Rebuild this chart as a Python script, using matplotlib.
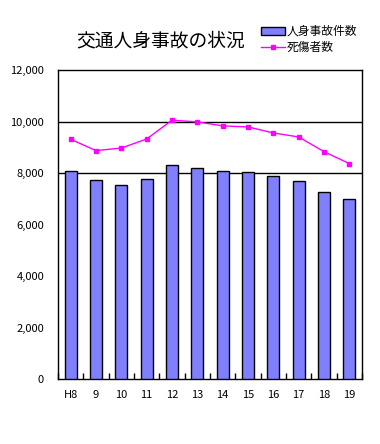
import numpy as np
import matplotlib.pyplot as plt
from matplotlib.ticker import FuncFormatter

plt.rcParams['font.family'] = ['Noto Sans CJK JP', 'DejaVu Sans']

years = ["H8", "9", "10", "11", "12", "13", "14", "15", "16", "17", "18", "19"]
accidents = [8090, 7740, 7550, 7780, 8325, 8210, 8090, 8050, 7900, 7700, 7270, 7000]
casualties = [9310, 8870, 8970, 9320, 10050, 9985, 9830, 9790, 9555, 9400, 8830, 8365]


def main() -> None:
    fig = plt.figure(figsize=(3.8, 4.44), dpi=100)
    ax = fig.add_axes([58 / 380, 1 - 379 / 444, 304 / 380, 309 / 444])

    x = np.arange(len(years))
    bars = ax.bar(x, accidents, width=0.47, color="#8080FF", edgecolor="black",
                  linewidth=1, label="人身事故件数", zorder=3)
    line, = ax.plot(x, casualties, color="#FF00FF", linewidth=1, marker="s",
                    markersize=3.5, label="死傷者数", zorder=4)

    for v in (8000, 10000):
        ax.axhline(v, color="black", linewidth=1, zorder=1)

    ax.set_xlim(-0.5, len(years) - 0.5)
    ax.set_ylim(0, 12000)
    ax.set_yticks(np.arange(0, 12001, 2000))
    ax.yaxis.set_major_formatter(FuncFormatter(lambda v, p: f"{int(v):,}"))
    ax.tick_params(axis="y", length=0, pad=10, labelsize=8)
    ax.set_xticks(x)
    ax.set_xticklabels(years)
    ax.tick_params(axis="x", length=0, pad=8, labelsize=8)
    ax.set_xticks(np.arange(-0.5, len(years), 1), minor=True)
    ax.tick_params(axis="x", which="minor", direction="in", length=4, width=1)
    for s in ax.spines.values():
        s.set_linewidth(1)

    fig.text(161 / 380, 1 - 41 / 444, "交通人身事故の状況", ha="center",
             va="center", fontsize=13.5)
    ax.legend([bars, line], ["人身事故件数", "死傷者数"], loc="upper left",
              bbox_to_anchor=(261 / 380, 1 - 25 / 444),
              bbox_transform=fig.transFigure, frameon=False, fontsize=8.5,
              handlelength=2.0, handletextpad=0.2, labelspacing=0.25,
              borderpad=0, borderaxespad=0)

    fig.savefig("out.png", dpi=100)


if __name__ == "__main__":
    main()
